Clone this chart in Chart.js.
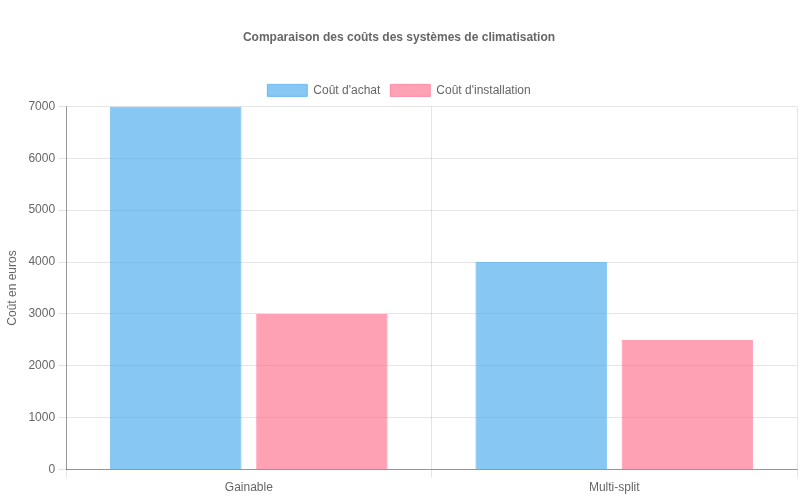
<!DOCTYPE html>
<html>
<head>
<meta charset="utf-8">
<script src="https://cdn.jsdelivr.net/npm/chart.js@4"></script>
<style>
html,body{margin:0;padding:0;background:#fff;}
#wrap{width:800px;height:500px;}
</style>
</head>
<body>
<div id="wrap"><canvas id="c"></canvas></div>
<script>
const categories = ["Gainable", "Multi-split"];
const achat = [7000, 4000];
const installation = [3000, 2500];
const seriesLabels = ["Coût d'achat", "Coût d'installation"];

Chart.defaults.font.family = "'Liberation Sans', Arial, sans-serif";
Chart.defaults.color = "#666";

new Chart(document.getElementById('c'), {
  type: 'bar',
  data: {
    labels: categories,
    datasets: [
      { label: seriesLabels[0], data: achat, backgroundColor: 'rgba(54,162,235,0.6)', borderColor: 'rgba(54,162,235,0.6)', borderWidth: 1 },
      { label: seriesLabels[1], data: installation, backgroundColor: 'rgba(255,99,132,0.6)', borderColor: 'rgba(255,99,132,0.6)', borderWidth: 1 }
    ]
  },
  options: {
    responsive: true,
    maintainAspectRatio: false,
    animation: false,
    layout: { padding: { left: 1, right: 3, bottom: 2 } },
    plugins: {
      title: { display: true, text: 'Comparaison des coûts des systèmes de climatisation', font: { size: 12, weight: 'bold' }, padding: { top: 30, bottom: 30 } },
      legend: { position: 'top' }
    },
    scales: {
      x: { grid: { display: true }, border: { color: 'rgba(0,0,0,0.35)' } },
      y: { beginAtZero: true, max: 7000, ticks: { stepSize: 1000, callback: (v) => String(v) }, border: { color: 'rgba(0,0,0,0.35)' }, title: { display: true, text: 'Coût en euros', padding: { top: 4, bottom: 6 } } }
    }
  }
});
</script>
</body>
</html>
